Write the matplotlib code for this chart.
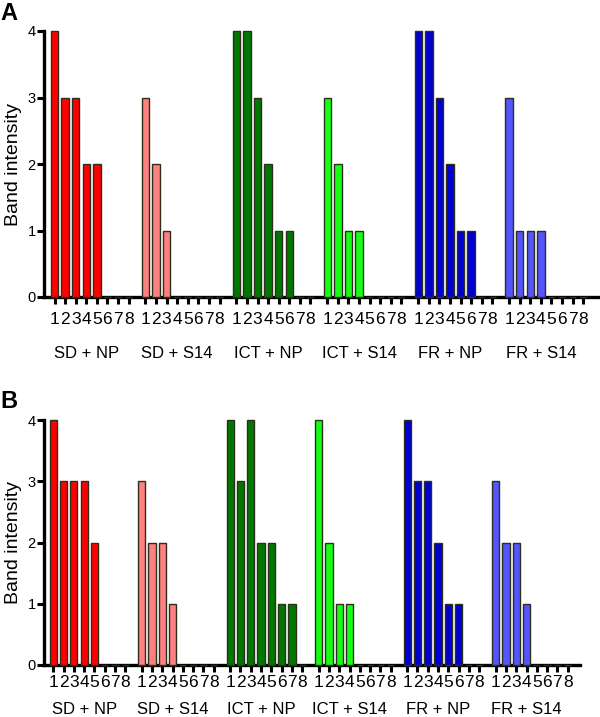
import numpy as np
import matplotlib
matplotlib.use('Agg')
import matplotlib.pyplot as plt

plt.rcParams['font.family'] = ['Liberation Sans', 'DejaVu Sans']

groups = ['SD + NP', 'SD + S14', 'ICT + NP', 'ICT + S14', 'FR + NP', 'FR + S14']
bands = ['1', '2', '3', '4', '5', '6', '7', '8']
colors = ['#ff0000', '#ff8080', '#007800', '#14ff14', '#0000d0', '#5555ff']

# band intensities, one row per group, bands 1-8
vals_a = [[4, 3, 3, 2, 2, 0, 0, 0],
          [3, 2, 1, 0, 0, 0, 0, 0],
          [4, 4, 3, 2, 1, 1, 0, 0],
          [3, 2, 1, 1, 0, 0, 0, 0],
          [4, 4, 3, 2, 1, 1, 0, 0],
          [3, 1, 1, 1, 0, 0, 0, 0]]
vals_b = [[4, 3, 3, 3, 2, 0, 0, 0],
          [3, 2, 2, 1, 0, 0, 0, 0],
          [4, 3, 4, 2, 2, 1, 1, 0],
          [4, 2, 1, 1, 0, 0, 0, 0],
          [4, 3, 3, 2, 1, 1, 0, 0],
          [3, 2, 2, 1, 0, 0, 0, 0]]

W, H = 600, 717
STEP = 8.6  # distance between the first bands of two groups
fig = plt.figure(figsize=(W / 100, H / 100), dpi=100)


def panel(vals, box, xlim, letter, letter_xy, tick_pad, grp_off):
    x0, y_top, x1, y_bot = box
    ax = fig.add_axes([x0 / W, 1 - y_bot / H, (x1 - x0) / W, (y_bot - y_top) / H])
    pos, labs = [], []
    for g, row in enumerate(vals):
        x = STEP * g + np.arange(len(bands))
        ax.bar(x, row, width=0.7, color=colors[g], edgecolor='#2e2e1e',
               linewidth=1.0, clip_on=False, zorder=3)
        pos += list(x)
        labs += bands
        ax.annotate(groups[g], xy=(STEP * g + 3, 0), xycoords=('data', 'axes fraction'),
                    xytext=(0, -grp_off), textcoords='offset points',
                    ha='center', va='center', fontsize=12)
    ax.set_xlim(*xlim)
    ax.set_ylim(0, 4)
    ax.set_xticks(pos)
    ax.set_xticklabels(labs, fontsize=12.5)
    ax.set_yticks([0, 1, 2, 3, 4])
    ax.set_yticklabels(['0', '1', '2', '3', '4'], fontsize=10.5)
    ax.tick_params(axis='x', direction='out', length=5, width=2.2, pad=tick_pad)
    ax.tick_params(axis='y', direction='out', length=5, width=2.2, pad=1)
    for s in ['top', 'right']:
        ax.spines[s].set_visible(False)
    for s in ['left', 'bottom']:
        ax.spines[s].set_linewidth(2.4)
    ax.set_ylabel('Band intensity', fontsize=14, labelpad=4)
    fig.text(letter_xy[0] / W, 1 - letter_xy[1] / H, letter, fontsize=17,
             fontweight='bold', ha='left', va='top')
    return ax


panel(vals_a, (44, 31, 598, 297), (-1.0, 51.4), 'A', (0, 2), 6, 41)
panel(vals_b, (44, 420, 580, 665), (-0.9, 51.2), 'B', (0, 390), 2.5, 32)

fig.savefig('out.png', dpi=100)
